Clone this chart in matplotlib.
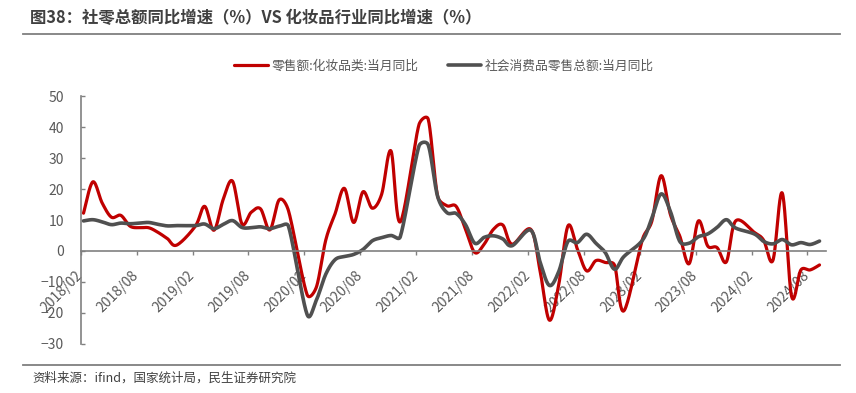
import matplotlib
matplotlib.use("Agg")
import matplotlib.pyplot as plt
import matplotlib.transforms as mtransforms
from matplotlib.lines import Line2D
import numpy as np
import pandas as pd

plt.rcParams['font.family'] = ['Noto Sans CJK SC', 'DejaVu Sans']

# monthly yoy %, Feb-Dec each year (Jan merged into Feb), 2018/02 - 2024/09
cosmetics = [12.2, 22.3, 15.5, 10.9, 11.5, 8.0, 7.5, 7.5, 6.0, 4.0, 1.9,
             8.0, 14.4, 6.7, 16.7, 22.5, 8.8, 12.5, 13.6, 6.8, 16.5, 13.0,
             -14.1, -11.6, 3.5, 12.0, 20.2, 9.2, 19.1, 13.8, 18.3, 32.3, 9.4,
             40.7, 42.5, 17.8, 14.6, 14.4, 7.0, -0.5, 2.2, 7.0, 8.4, 2.2,
             7.0, -6.3, -22.3, -11.0, 8.1, 0.7, -6.4, -3.1, -3.7, -4.6, -19.3,
             3.8, 9.6, 24.3, 11.7, 4.8, -4.1, 9.7, 1.6, 1.1, -3.5, 9.7,
             6.0, 3.5, -3.0, 18.7, -14.6, -6.1, -6.1, -4.5]
retail_total = [9.7, 10.1, 9.4, 8.5, 9.0, 8.8, 9.0, 9.2, 8.6, 8.1, 8.2,
                8.2, 8.7, 7.2, 8.6, 9.8, 7.6, 7.5, 7.8, 7.2, 8.0, 8.0,
                -20.5, -15.8, -7.5, -2.8, -1.8, -1.1, 0.5, 3.3, 4.3, 5.0, 4.6,
                33.8, 34.2, 17.7, 12.4, 12.1, 8.5, 2.5, 4.4, 4.9, 3.9, 1.7,
                6.7, -3.5, -11.1, -6.7, 3.1, 2.7, 5.4, 2.5, -0.5, -5.9, -1.8,
                3.5, 10.6, 18.4, 12.7, 3.1, 2.5, 4.6, 5.5, 7.6, 10.1, 7.4,
                5.5, 3.1, 2.3, 3.7, 2.0, 2.7, 2.1, 3.2]
labels = ["零售额:化妆品类:当月同比", "社会消费品零售总额:当月同比"]
tick_labels = ["2018/02", "2018/08", "2019/02", "2019/08", "2020/02", "2020/08",
               "2021/02", "2021/08", "2022/02", "2022/08", "2023/02", "2023/08",
               "2024/02", "2024/08"]

months = pd.date_range("2018-02-01", "2024-09-01", freq="MS")
months = months[months.month != 1]
start = pd.Timestamp("2018-02-01")
xm = np.array([(d.year - start.year) * 12 + d.month - start.month for d in months]) + 0.3


def smooth(x, y, sx=9.32, sy=3.1, n=24):
    # excel-like smoothed line, worked out in pixel space so the
    # control points can be capped at half the segment length
    P = np.column_stack([np.asarray(x) * sx, np.asarray(y) * sy])
    k = len(P)
    out = []
    t = np.linspace(0, 1, n)[:, None]
    for i in range(k - 1):
        p0 = P[max(i - 1, 0)]
        p1 = P[i]
        p2 = P[i + 1]
        p3 = P[min(i + 2, k - 1)]
        half = np.hypot(*(p2 - p1)) / 2
        a = (p2 - p0) / 6
        b = (p3 - p1) / 6
        la, lb = np.hypot(*a), np.hypot(*b)
        if la > half:
            a = a * half / la
        if lb > half:
            b = b * half / lb
        b1 = p1 + a
        b2 = p2 - b
        seg = (1-t)**3*p1 + 3*(1-t)**2*t*b1 + 3*(1-t)*t**2*b2 + t**3*p2
        out.append(seg)
    out = np.vstack(out)
    return out[:, 0] / sx, out[:, 1] / sy


fig = plt.figure(figsize=(8.56, 3.93), dpi=100)
ax = fig.add_axes([0.0943, 0.1247, 0.8707, 0.631])

for s in ["top", "right"]:
    ax.spines[s].set_visible(False)
ax.spines["bottom"].set_position(("data", 0))
ax.spines["bottom"].set_color("#808080")
ax.spines["bottom"].set_linewidth(1.2)
ax.spines["left"].set_color("#808080")
ax.spines["left"].set_linewidth(1.2)

cx, cy = smooth(xm, cosmetics)
ax.plot(cx, cy, color="#C00000", lw=2.3, label=labels[0], solid_capstyle="round")
gx, gy = smooth(xm, retail_total)
ax.plot(gx, gy, color="#505050", lw=2.6, label=labels[1], solid_capstyle="round")

ax.set_xlim(0, 80)
ax.set_ylim(-30, 50)
ax.set_yticks(range(-30, 51, 10))
ax.set_xticks(range(0, 79, 6))
ax.set_xticklabels(tick_labels, rotation=45, ha="right", va="center",
                   rotation_mode="anchor")
off = mtransforms.ScaledTranslation(0.075, 0, fig.dpi_scale_trans)
for lab in ax.get_xticklabels():
    lab.set_transform(lab.get_transform() + off)

ax.tick_params(axis="y", direction="in", length=3, width=1, color="#808080",
               labelsize=10, labelcolor="#595959", pad=12)
ax.tick_params(axis="x", direction="out", length=3, width=1, color="#808080",
               labelsize=10, labelcolor="#595959", pad=13)

fig.legend(loc="center", bbox_to_anchor=(0.519, 0.832), ncol=2, frameon=False,
           fontsize=9.2, labelcolor="#595959", handlelength=2.6,
           handletextpad=0.3, columnspacing=2.3)

fig.text(30 / 856, 1 - 18 / 393, "图38：社零总额同比增速（%）VS 化妆品行业同比增速（%）",
         fontsize=11.8, fontweight="bold", color="#404040", va="center")
fig.add_artist(Line2D([23 / 856, 840 / 856], [1 - 34 / 393] * 2,
                      color="#7f7f7f", lw=1.3))
fig.add_artist(Line2D([23 / 856, 840 / 856], [1 - 365 / 393] * 2,
                      color="#7f7f7f", lw=1.3))
fig.text(32 / 856, 1 - 378 / 393, "资料来源：ifind，国家统计局，民生证券研究院",
         fontsize=9, color="#404040", va="center")

fig.savefig("out.png", dpi=100)
